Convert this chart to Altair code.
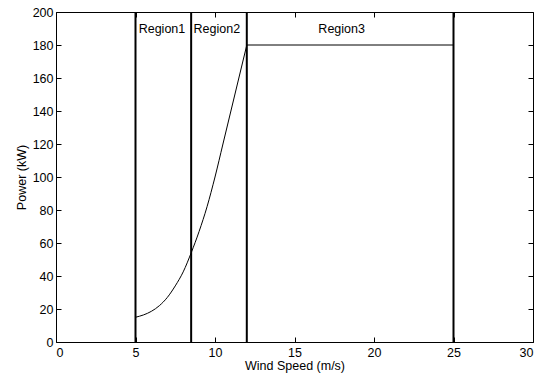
import altair as alt
import pandas as pd

# Power curve (Region 2 transition)
speed = [5, 5.5, 6, 6.5, 7, 7.5, 8, 8.5, 9, 9.5, 10, 10.5, 11, 11.5, 12]
power = [15, 16.4, 18.6, 22, 27, 34, 42.5, 54, 67, 82, 100, 120, 140, 160, 180]

# Region boundary lines
boundaries = [5, 8.5, 12, 25]

# Rated power segment
rated_x = [12]
rated_x2 = [25]
rated_p = [180]

# Region labels
region_names = ["Region1", "Region2", "Region3"]
region_x = [5.2, 8.65, 16.5]
region_y = [190, 190, 190]

# Tick values
x_ticks = [0, 5, 10, 15, 20, 25, 30]
y_ticks = [0, 20, 40, 60, 80, 100, 120, 140, 160, 180, 200]

FONT = "Liberation Sans"
FS = 12.5
TS = 5

curve_df = pd.DataFrame({"speed": speed, "power": power})
bound_df = pd.DataFrame({"x": boundaries, "y0": [0] * len(boundaries), "y1": [200] * len(boundaries)})
rated_df = pd.DataFrame({"x": rated_x, "x2": rated_x2, "y": rated_p})
label_df = pd.DataFrame({"name": region_names, "x": region_x, "y": region_y})

xscale = alt.Scale(domain=[0, 30], nice=False, zero=False)
yscale = alt.Scale(domain=[0, 200], nice=False, zero=False)

common_axis = dict(
    grid=False, domain=False, tickColor="black", tickSize=TS, offset=-TS,
    labelFont=FONT, labelFontSize=FS, labelColor="black",
    titleFont=FONT, titleFontSize=FS, titleColor="black", titleFontWeight="normal",
)

curve = alt.Chart(curve_df).mark_line(color="black", strokeWidth=1, interpolate="monotone").encode(
    x=alt.X("speed:Q", scale=xscale,
            axis=alt.Axis(orient="bottom", values=x_ticks,
                          title="Wind Speed (m/s)", labelPadding=4, titlePadding=1, **common_axis)),
    y=alt.Y("power:Q", scale=yscale,
            axis=alt.Axis(orient="left", values=y_ticks,
                          title="Power (kW)", labelPadding=3, titlePadding=4, **common_axis)),
)

bounds = alt.Chart(bound_df).mark_rule(color="black", strokeWidth=2).encode(
    x=alt.X("x:Q", scale=xscale,
            axis=alt.Axis(orient="top", values=x_ticks, labels=False, title=None,
                          grid=False, domain=False, tickColor="black", tickSize=TS, offset=-TS)),
    y=alt.Y("y0:Q", scale=yscale,
            axis=alt.Axis(orient="right", values=y_ticks, labels=False, title=None,
                          grid=False, domain=False, tickColor="black", tickSize=TS, offset=-TS)),
    y2="y1:Q",
)

rated = alt.Chart(rated_df).mark_rule(color="black", strokeWidth=1).encode(
    x=alt.X("x:Q", scale=xscale, axis=None),
    x2="x2:Q",
    y=alt.Y("y:Q", scale=yscale, axis=None),
)

labels = alt.Chart(label_df).mark_text(
    align="left", baseline="middle", font=FONT, fontSize=FS, color="black"
).encode(
    x=alt.X("x:Q", scale=xscale, axis=None),
    y=alt.Y("y:Q", scale=yscale, axis=None),
    text="name:N",
)

chart = alt.layer(curve, bounds, rated, labels).resolve_axis(
    x="independent", y="independent"
).properties(
    width=477, height=330,
    autosize=alt.AutoSizeParams(type="none"),
    padding={"left": 56, "top": 12, "right": 7, "bottom": 32},
    background="white",
).configure_view(stroke="black", strokeWidth=1)

chart.save("out.html", embed_options={"renderer": "svg", "actions": False})
